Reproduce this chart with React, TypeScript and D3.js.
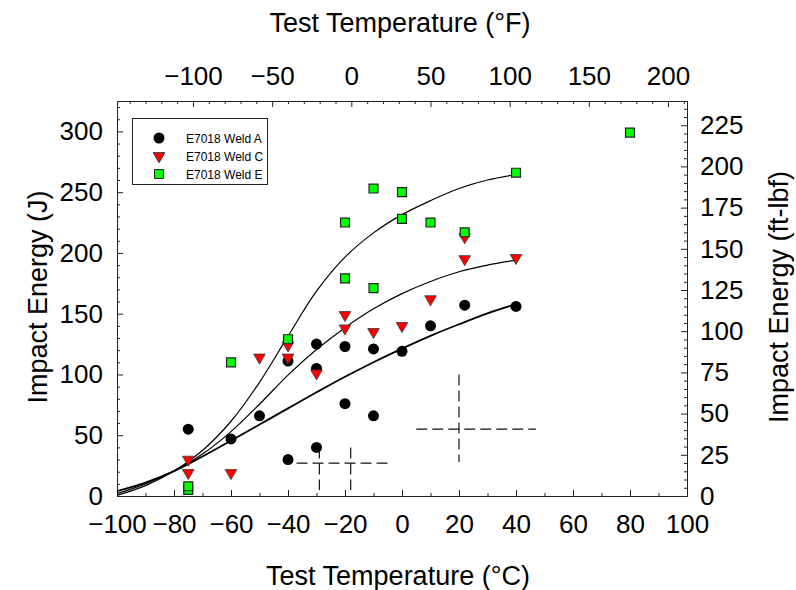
import * as React from "react";
import * as d3 from "d3";

// measured data (deg C, J)
const weldATemp = [-75, -60, -50, -40, -40, -30, -30, -30, -20, -20, -10, -10, 0, 10, 22, 40];
const weldAEnergy = [55, 47, 66, 111, 30, 125, 105, 40, 123, 76, 121, 66, 119, 140, 157, 156];

const weldCTemp = [-75, -75, -60, -50, -40, -40, -30, -20, -20, -10, 0, 10, 22, 22, 40];
const weldCEnergy = [30, 19, 19, 114, 124, 114, 101, 149, 138, 135, 140, 162, 213, 195, 196];

const weldETemp = [-75, -75, -60, -40, -20, -20, -10, -10, 0, 0, 10, 22, 40, 80];
const weldEEnergy = [5, 8, 110, 129, 225, 179, 253, 171, 250, 228, 225, 217, 266, 299];

// fitted curves
const fitTemp = [-100, -90, -80, -70, -60, -50, -40, -30, -20, -10, 0, 10, 20, 30, 40];
const fitA = [4, 11, 20.5, 32.5, 45.5, 58.8, 72.1, 85.3, 98.1, 110.1, 121.3, 131.8, 141.3, 150.3, 157.8];
const fitC = [2, 10, 20.5, 34.5, 53, 75.5, 99.5, 120.5, 138.5, 154, 166.5, 176.5, 184.5, 190, 194];
const fitE = [0.5, 8.5, 20.5, 37.5, 61.5, 93.5, 131.5, 168.5, 196.5, 216.5, 231.5, 243, 253, 260, 264.5];

// dashed scatter crosses
const crossH = [
  { t0: -37, t1: -4, e: 27 },
  { t0: 5, t1: 47, e: 55 },
];
const crossV = [
  { t: -29, e0: 5, e1: 40 },
  { t: -18, e0: 5, e1: 40 },
  { t: 20, e0: 28, e1: 100 },
];

const legendLabels = ["E7018 Weld A", "E7018 Weld C", "E7018 Weld E"];

const cTicks = [-100, -80, -60, -40, -20, 0, 20, 40, 60, 80, 100];
const cMinor = [-90, -70, -50, -30, -10, 10, 30, 50, 70, 90];
const fTicks = [-100, -50, 0, 50, 100, 150, 200];
const fMinor = [-140, -130, -120, -110, -90, -80, -70, -60, -40, -30, -20, -10, 10, 20, 30, 40, 60, 70, 80, 90, 110, 120, 130, 140, 160, 170, 180, 190, 210];
const jTicks = [0, 50, 100, 150, 200, 250, 300];
const jMinor = [10, 20, 30, 40, 60, 70, 80, 90, 110, 120, 130, 140, 160, 170, 180, 190, 210, 220, 230, 240, 260, 270, 280, 290, 310, 320];
const ftTicks = [0, 25, 50, 75, 100, 125, 150, 175, 200, 225];

const FONT = "'Liberation Sans', Arial, sans-serif";
const FS = 26;
const FS_TITLE = 27;
const W = 796;
const H = 590;
const left = 117;
const right = 687;
const top = 101;
const bottom = 496;
const J_PER_FTLB = 1.3558;

function drawChart(node: SVGSVGElement) {
  const svg = d3.select(node);
  svg.selectAll("*").remove();

  const x = d3.scaleLinear().domain([-100, 100]).range([left, right]);
  const y = d3.scaleLinear().domain([0, 325]).range([bottom, top]);
  const xF = d3.scaleLinear().domain([-148, 212]).range([left, right]);
  const yF = d3.scaleLinear().domain([0, 325 / J_PER_FTLB]).range([bottom, top]);

  const ftMinor = d3.range(5, 240, 5).filter((v) => v % 25 !== 0);

  const styleAxis = (g: any) => {
    g.select(".domain").attr("stroke", "#222").attr("stroke-width", 1);
    g.selectAll(".tick line").attr("stroke", "#222").attr("stroke-width", 1);
    g.selectAll(".tick text")
      .attr("fill", "#000")
      .style("font-family", FONT)
      .style("font-size", FS + "px");
  };

  // minor ticks
  const minor = [
    { ax: d3.axisBottom(x).tickValues(cMinor), t: `translate(0,${bottom})` },
    { ax: d3.axisTop(xF).tickValues(fMinor), t: `translate(0,${top})` },
    { ax: d3.axisLeft(y).tickValues(jMinor), t: `translate(${left},0)` },
    { ax: d3.axisRight(yF).tickValues(ftMinor), t: `translate(${right},0)` },
  ];
  minor.forEach((m) => {
    const g = svg
      .append("g")
      .attr("transform", m.t)
      .call(m.ax.tickSize(-3).tickSizeOuter(0).tickFormat(() => ""));
    styleAxis(g);
  });

  // major ticks with labels
  const gB = svg
    .append("g")
    .attr("transform", `translate(0,${bottom})`)
    .call(d3.axisBottom(x).tickValues(cTicks).tickSize(-6).tickSizeOuter(0).tickPadding(19));
  styleAxis(gB);

  const gT = svg
    .append("g")
    .attr("transform", `translate(0,${top})`)
    .call(d3.axisTop(xF).tickValues(fTicks).tickSize(-6).tickSizeOuter(0).tickPadding(16));
  styleAxis(gT);

  const gL = svg
    .append("g")
    .attr("transform", `translate(${left},0)`)
    .call(d3.axisLeft(y).tickValues(jTicks).tickSize(-6).tickSizeOuter(0).tickPadding(14));
  styleAxis(gL);

  const gR = svg
    .append("g")
    .attr("transform", `translate(${right},0)`)
    .call(d3.axisRight(yF).tickValues(ftTicks).tickSize(-6).tickSizeOuter(0).tickPadding(13));
  styleAxis(gR);

  // axis titles
  const title = (tx: number, ty: number, rot: number, txt: string) =>
    svg
      .append("text")
      .attr("transform", `translate(${tx},${ty}) rotate(${rot})`)
      .attr("text-anchor", "middle")
      .style("font-family", FONT)
      .style("font-size", FS_TITLE + "px")
      .text(txt);
  title(398, 585, 0, "Test Temperature (°C)");
  title(400, 32, 0, "Test Temperature (°F)");
  title(47, 297, -90, "Impact Energy (J)");
  title(788, 297, -90, "Impact Energy (ft-lbf)");

  // fitted curves
  const line = d3
    .line<number>()
    .x((_d, i) => x(fitTemp[i]))
    .y((d) => y(d))
    .curve(d3.curveCatmullRom.alpha(0.5));
  [
    { v: fitA, w: 1.8 },
    { v: fitC, w: 1.2 },
    { v: fitE, w: 1.2 },
  ].forEach((c) => {
    svg
      .append("path")
      .attr("d", line(c.v))
      .attr("fill", "none")
      .attr("stroke", "#000")
      .attr("stroke-width", c.w);
  });

  // dashed crosses
  svg
    .append("g")
    .selectAll("line")
    .data(crossH)
    .join("line")
    .attr("x1", (d) => x(d.t0))
    .attr("x2", (d) => x(d.t1))
    .attr("y1", (d) => y(d.e))
    .attr("y2", (d) => y(d.e))
    .attr("stroke", "#111")
    .attr("stroke-width", 1.2)
    .attr("stroke-dasharray", "11,5");
  svg
    .append("g")
    .selectAll("line")
    .data(crossV)
    .join("line")
    .attr("x1", (d) => x(d.t))
    .attr("x2", (d) => x(d.t))
    .attr("y1", (d) => y(d.e1))
    .attr("y2", (d) => y(d.e0))
    .attr("stroke", "#111")
    .attr("stroke-width", 1.2)
    .attr("stroke-dasharray", "11,5");

  const circle = d3.symbol(d3.symbolCircle, 95)();
  const tri = d3.symbol(d3.symbolTriangle, 58)();
  const square = d3.symbol(d3.symbolSquare, 80)();

  // Weld A
  svg
    .append("g")
    .selectAll("path")
    .data(weldATemp)
    .join("path")
    .attr("d", circle)
    .attr("transform", (d, i) => `translate(${x(d)},${y(weldAEnergy[i])})`)
    .attr("fill", "#000");

  // Weld C
  svg
    .append("g")
    .selectAll("path")
    .data(weldCTemp)
    .join("path")
    .attr("d", tri)
    .attr("transform", (d, i) => `translate(${x(d)},${y(weldCEnergy[i])}) rotate(180)`)
    .attr("fill", "#ff0000")
    .attr("stroke", "#333")
    .attr("stroke-width", 0.8);

  // Weld E
  svg
    .append("g")
    .selectAll("path")
    .data(weldETemp)
    .join("path")
    .attr("d", square)
    .attr("transform", (d, i) => `translate(${x(d)},${y(weldEEnergy[i])})`)
    .attr("fill", "#00ff00")
    .attr("stroke", "#222")
    .attr("stroke-width", 1.2);

  // legend
  const lg = svg.append("g");
  lg.append("rect")
    .attr("x", 132.5)
    .attr("y", 118.5)
    .attr("width", 135)
    .attr("height", 66)
    .attr("fill", "#fff")
    .attr("stroke", "#222")
    .attr("stroke-width", 1);
  const syms = [
    { d: circle, fill: "#000", rot: 0, stroke: "none" },
    { d: tri, fill: "#ff0000", rot: 180, stroke: "#333" },
    { d: square, fill: "#00ff00", rot: 0, stroke: "#222" },
  ];
  legendLabels.forEach((lab, i) => {
    const cy = 138 + i * 18;
    lg.append("path")
      .attr("d", syms[i].d)
      .attr("transform", `translate(159,${cy}) rotate(${syms[i].rot})`)
      .attr("fill", syms[i].fill)
      .attr("stroke", syms[i].stroke)
      .attr("stroke-width", 1);
    lg.append("text")
      .attr("x", 186)
      .attr("y", cy + 4.5)
      .style("font-family", FONT)
      .style("font-size", "12px")
      .text(lab);
  });
}

export default function App() {
  const ref = React.useRef<SVGSVGElement>(null);
  React.useEffect(() => {
    if (ref.current) drawChart(ref.current);
  }, []);
  return (
    <svg
      ref={ref}
      width={W}
      height={H}
      style={{ position: "absolute", left: 0, top: 0, background: "#fff" }}
    />
  );
}
